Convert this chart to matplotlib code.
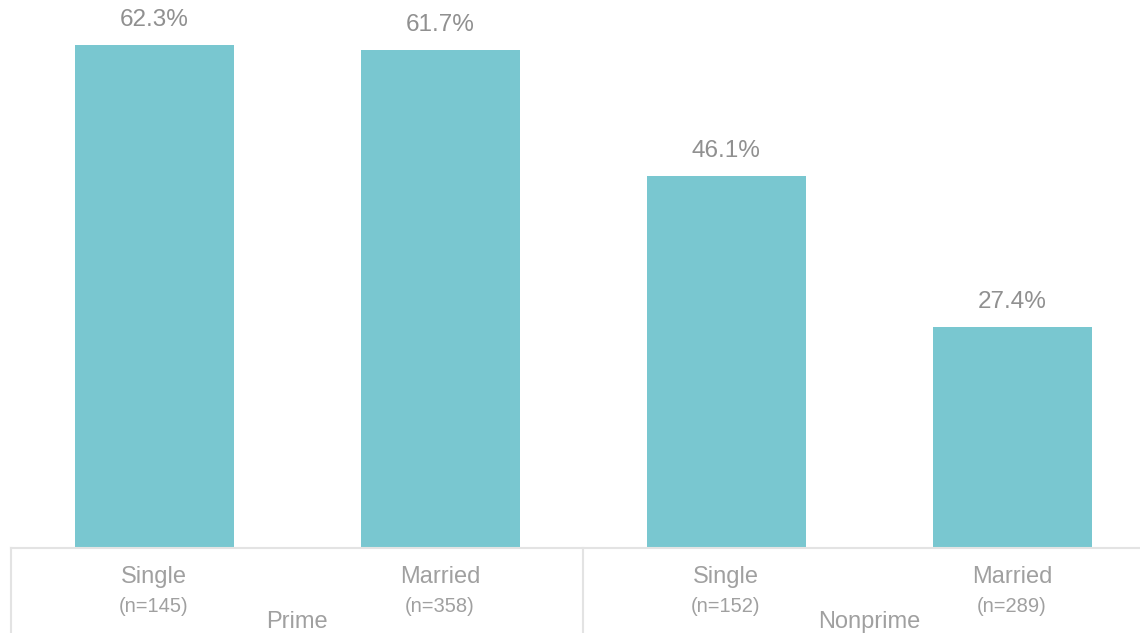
import numpy as np
import matplotlib
matplotlib.use('Agg')
import matplotlib.pyplot as plt

plt.rcParams['font.family'] = ['Liberation Sans', 'DejaVu Sans']

categories = ['Single', 'Married', 'Single', 'Married']
counts = ['(n=145)', '(n=358)', '(n=152)', '(n=289)']
groups = ['Prime', 'Nonprime']
values = [62.3, 61.7, 46.1, 27.4]

bar_color = '#79c7d0'
value_color = '#909090'
label_color = '#a0a0a0'
line_color = '#e3e3e3'

fig = plt.figure(figsize=(11.4, 6.33), dpi=100)
# axes runs a bit past the right edge of the figure, as in the reference
ax = fig.add_axes([11 / 1140, 85 / 633, 1144 / 1140, 548 / 633])

x = np.arange(len(values))
ax.bar(x, values, width=159 / 286, color=bar_color)
ax.set_xlim(-0.5, len(values) - 0.5)
ax.set_ylim(0, 548 / (503 / 62.3))

for s in ax.spines.values():
    s.set_visible(False)
ax.set_xticks([])
ax.set_yticks([])

for xi, v in zip(x, values):
    ax.annotate(f'{v:.1f}%', (xi, v), xytext=(0, 25), textcoords='offset pixels',
                ha='center', va='center', fontsize=17.5, color=value_color)

trans = ax.get_xaxis_transform()
for xi, c, n in zip(x, categories, counts):
    ax.annotate(c, (xi, 0), xycoords=trans, xytext=(0, -29), textcoords='offset pixels',
                ha='center', va='center', fontsize=17, color=label_color)
    ax.annotate(n, (xi, 0), xycoords=trans, xytext=(0, -59), textcoords='offset pixels',
                ha='center', va='center', fontsize=14.5, color=label_color)

for gi, g in enumerate(groups):
    ax.annotate(g, (2 * gi + 0.5, 0), xycoords=trans, xytext=(0, -74), textcoords='offset pixels',
                ha='center', va='center', fontsize=17, color=label_color)

# box lines under the axis
ax.axhline(0, color=line_color, lw=1.5, clip_on=False)
for bx in [-0.5, 1.5, 3.5]:
    ax.plot([bx, bx], [0, -0.2], transform=trans, color=line_color, lw=1.5, clip_on=False)

fig.savefig('out.png', dpi=100)
